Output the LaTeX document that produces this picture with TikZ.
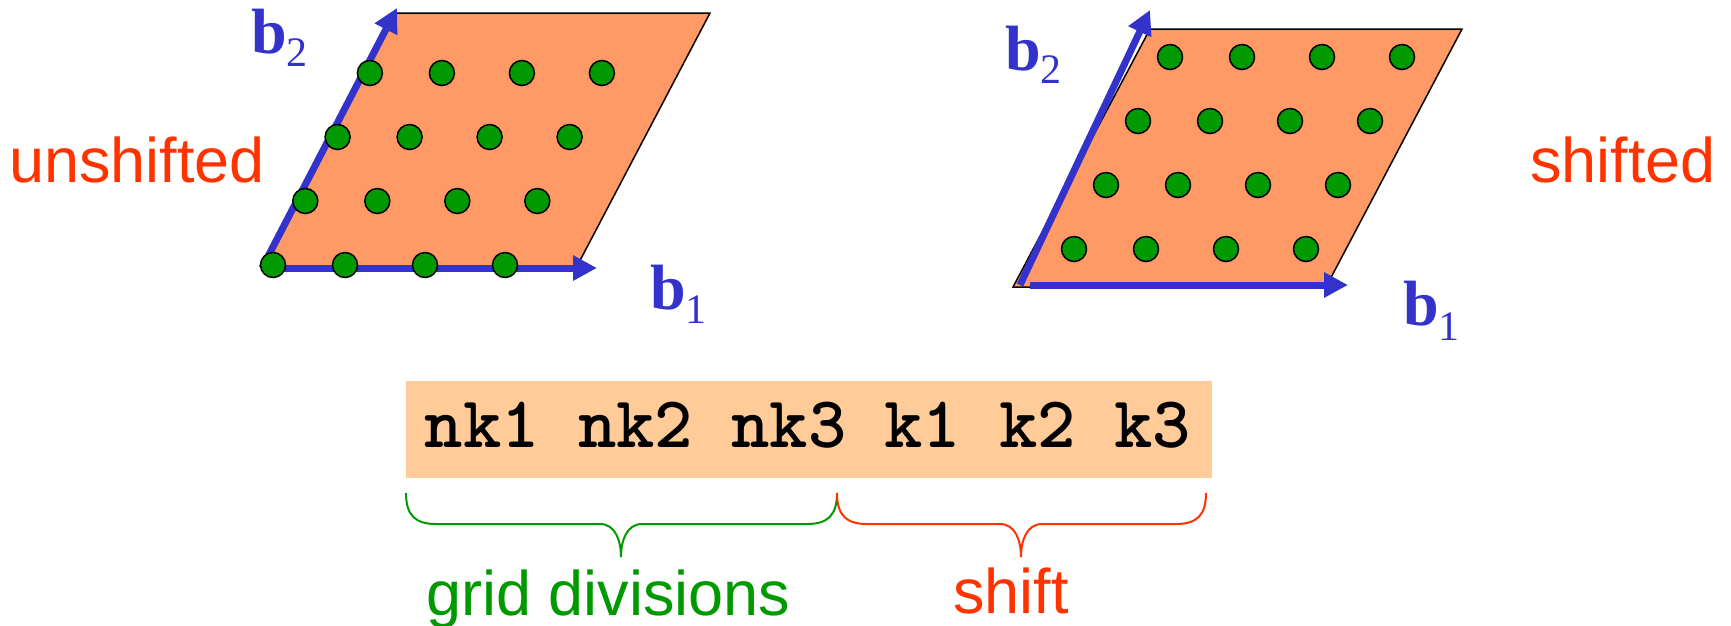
\documentclass[tikz,border=0pt]{standalone}
\usepackage{fontspec}
\usetikzlibrary{arrows.meta}
\newfontfamily\sansf{Liberation Sans}
\newfontfamily\seriff{Liberation Serif}
\newfontfamily\monof{lmmonolt10-bold}[Extension=.otf]
\definecolor{vecblue}{HTML}{3333CC}
\definecolor{cellfill}{HTML}{FF9966}
\definecolor{boxfill}{HTML}{FFCC99}
\definecolor{dotgreen}{HTML}{009900}
\definecolor{lblred}{HTML}{FF3300}
\definecolor{lblgreen}{HTML}{009900}
\begin{document}
\begin{tikzpicture}[x=1pt,y=-1pt,
  cell/.style={fill=cellfill,draw=black,line width=1.5pt,line join=miter},
  vec/.style={draw=vecblue,line width=7pt,-{Triangle[length=24pt,width=24pt]}},
  kpt/.style={circle,fill=dotgreen,draw=black,line width=1.5pt,minimum size=25pt,inner sep=0pt},
  veclbl/.style={text=vecblue,anchor=base west,inner sep=0pt,font={\seriff\bfseries\fontsize{64}{64}\selectfont}},
  bigtxt/.style={anchor=base west,inner sep=0pt,font={\sansf\fontsize{63}{63}\selectfont}},
  codebox/.style={fill=boxfill,minimum width=806pt,minimum height=97pt,inner sep=0pt},
  codetxt/.style={anchor=base,inner sep=0pt,font={\monof\fontsize{73}{73}\selectfont}},
  bracegreen/.style={draw=lblgreen,line width=2pt},
  bracered/.style={draw=lblred,line width=2pt}
]
\useasboundingbox (0,0) rectangle (1731,625);

% ---------- left (unshifted) cell ----------
\coordinate (LA) at (262,270);
\coordinate (LB) at (575,270);
\coordinate (LC) at (710,13);
\coordinate (LD) at (397,13);
\filldraw[cell] (LA) -- (LB) -- (LC) -- (LD) -- cycle;
\coordinate (Lo) at (262,268);
\coordinate (Lb1) at (597,268);
\coordinate (Lb2) at (397,8);
\draw[vec] (Lo) -- (Lb1);
\draw[vec] (Lo) -- (Lb2);
\foreach \r in {0,1,2,3}{
  \foreach \c/\dx in {0/0,1/72,2/152,3/232}{
    \node[kpt] (L\r\c) at ({273+32.3*\r+\dx},{265-64*\r}) {};
  }
}
\node[veclbl] (Llb2) at (251,53) {b\raisebox{-13pt}{\fontsize{42}{42}\selectfont\mdseries 2}};
\node[veclbl] (Llb1) at (650,309) {b\raisebox{-14pt}{\fontsize{42}{42}\selectfont\mdseries 1}};

% ---------- right (shifted) cell ----------
\coordinate (RA) at (1013,287);
\coordinate (RB) at (1326,287);
\coordinate (RC) at (1462,29);
\coordinate (RD) at (1150,29);
\filldraw[cell] (RA) -- (RB) -- (RC) -- (RD) -- cycle;
\coordinate (Ro1) at (1030,285);
\coordinate (Ro2) at (1020,285);
\coordinate (Rb1) at (1348,285);
\coordinate (Rb2) at (1150,10);
\foreach \r in {0,1,2,3}{
  \foreach \c/\dx in {0/0,1/72,2/152,3/232}{
    \node[kpt] (R\r\c) at ({1074+32*\r+\dx},{249-64*\r}) {};
  }
}
\draw[vec] (Ro1) -- (Rb1);
\draw[vec] (Ro2) -- (Rb2);
\node[veclbl] (Rlb2) at (1005,70) {b\raisebox{-13pt}{\fontsize{42}{42}\selectfont\mdseries 2}};
\node[veclbl] (Rlb1) at (1403,325) {b\raisebox{-15pt}{\fontsize{42}{42}\selectfont\mdseries 1}};

% ---------- side labels ----------
\node[bigtxt,text=lblred] (unsh) at (9,182) {unshifted};
\node[bigtxt,text=lblred] (sh) at (1530,182) {shifted};

% ---------- code box ----------
\node[codebox] (box) at (809,429.5) {};
\node[codetxt] (code) at (808,447) {nk1 nk2 nk3 k1 k2 k3};

% ---------- braces ----------
\draw[bracegreen] (406,493) .. controls (406,515) and (415,524) .. (436,524)
  -- (600,524) .. controls (615,524) and (621,540) .. (621,557)
  .. controls (621,540) and (627,524) .. (642,524)
  -- (807,524) .. controls (828,524) and (837,515) .. (837,493);
\draw[bracered] (837,493) .. controls (837,515) and (846,524) .. (867,524)
  -- (1000,524) .. controls (1015,524) and (1021,540) .. (1021,557)
  .. controls (1021,540) and (1027,524) .. (1042,524)
  -- (1176,524) .. controls (1197,524) and (1206,515) .. (1206,493);

\node[bigtxt,text=lblgreen] (grid) at (426,615) {grid divisions};
\node[bigtxt,text=lblred] (shift) at (953,613) {shift};
\end{tikzpicture}
\end{document}
